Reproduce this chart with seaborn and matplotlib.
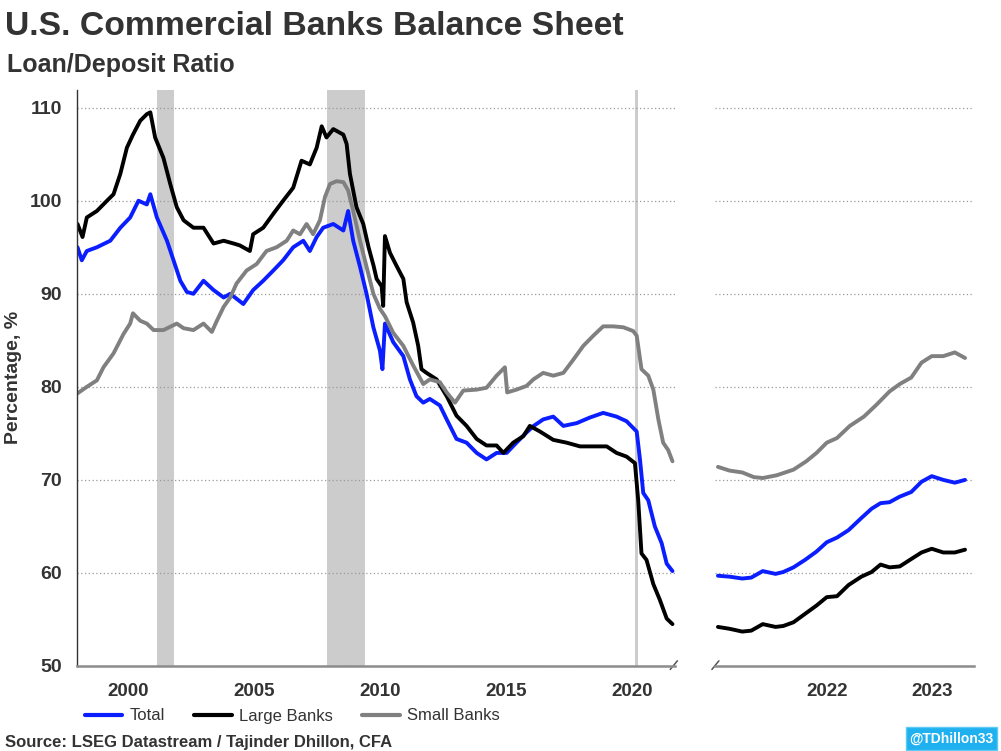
import pandas as pd
import matplotlib.pyplot as plt
import seaborn as sns
from matplotlib.patches import Rectangle

# ---- data (decimal years, loan/deposit ratio %) ----
total_years = [1998.0, 1998.17, 1998.37, 1998.77, 1999.3, 1999.7, 2000.09, 2000.42, 2000.75, 2000.89,
               2001.15, 2001.55, 2001.81, 2002.08, 2002.34, 2002.6, 2003.0, 2003.4, 2003.8, 2004.06,
               2004.58, 2004.97, 2005.37, 2005.77, 2006.16, 2006.56, 2006.96, 2007.22, 2007.49, 2007.75,
               2008.15, 2008.55, 2008.74, 2008.94, 2009.21, 2009.47, 2009.74, 2010.0, 2010.1, 2010.2,
               2010.53, 2010.93, 2011.19, 2011.45, 2011.72, 2011.98, 2012.38, 2012.65, 2012.91, 2013.04,
               2013.44, 2013.84, 2014.23, 2014.63, 2015.03, 2015.42, 2015.82, 2016.1, 2016.48, 2016.88,
               2017.28, 2017.81, 2018.33, 2018.86, 2019.39, 2019.79, 2020.19, 2020.32, 2020.45, 2020.65,
               2020.91, 2021.18, 2021.38, 2021.61]
total_vals = [95.0, 93.6, 94.6, 95.0, 95.7, 97.1, 98.2, 100.0, 99.6, 100.7,
              98.2, 95.7, 93.6, 91.4, 90.2, 90.0, 91.4, 90.4, 89.6, 90.0,
              88.9, 90.4, 91.4, 92.5, 93.6, 95.0, 95.7, 94.6, 96.1, 97.1,
              97.5, 96.8, 98.9, 95.7, 92.9, 90.0, 86.4, 83.9, 81.9, 86.8,
              84.8, 83.3, 80.8, 79.0, 78.3, 78.7, 78.0, 76.5, 75.1, 74.4,
              74.0, 72.9, 72.2, 72.9, 72.9, 74.0, 75.1, 75.8, 76.5, 76.8,
              75.8, 76.1, 76.7, 77.2, 76.8, 76.3, 75.2, 72.2, 68.6, 67.8,
              65.0, 63.2, 61.0, 60.2]

large_years = [1998.0, 1998.2, 1998.37, 1998.77, 1999.17, 1999.43, 1999.7, 1999.96, 2000.2, 2000.49,
               2000.75, 2000.89, 2001.08, 2001.41, 2001.68, 2001.94, 2002.21, 2002.6, 2003.0, 2003.4,
               2003.8, 2004.2, 2004.44, 2004.84, 2004.97, 2005.37, 2005.77, 2006.16, 2006.56, 2006.89,
               2007.22, 2007.49, 2007.69, 2007.88, 2008.15, 2008.55, 2008.68, 2008.81, 2009.07, 2009.34,
               2009.55, 2009.75, 2009.87, 2010.07, 2010.13, 2010.2, 2010.4, 2010.66, 2010.93, 2011.06,
               2011.32, 2011.52, 2011.65, 2011.85, 2012.25, 2012.65, 2012.91, 2013.04, 2013.44, 2013.84,
               2014.23, 2014.63, 2014.9, 2015.29, 2015.69, 2015.95, 2016.35, 2016.88, 2017.41, 2017.94,
               2018.47, 2019.0, 2019.39, 2019.79, 2020.12, 2020.25, 2020.38, 2020.58, 2020.85, 2021.11,
               2021.38, 2021.61]
large_vals = [97.5, 96.1, 98.2, 98.9, 100.0, 100.7, 102.9, 105.7, 107.1, 108.6,
              109.3, 109.5, 106.8, 104.6, 101.8, 99.3, 97.9, 97.1, 97.1, 95.4,
              95.7, 95.4, 95.2, 94.6, 96.4, 97.1, 98.6, 100.0, 101.4, 104.3,
              103.9, 105.7, 108.0, 106.8, 107.7, 107.1, 106.1, 102.9, 99.3, 97.5,
              95.0, 93.0, 91.6, 90.8, 88.7, 96.2, 94.4, 93.0, 91.6, 89.1,
              86.9, 84.4, 81.9, 81.5, 80.8, 79.0, 77.6, 76.9, 75.8, 74.4,
              73.7, 73.7, 72.9, 74.0, 74.7, 75.8, 75.2, 74.3, 74.0, 73.6,
              73.6, 73.6, 72.9, 72.5, 71.8, 67.8, 62.1, 61.4, 58.8, 57.1,
              55.1, 54.5]

small_years = [1998.0, 1998.37, 1998.77, 1999.03, 1999.43, 1999.83, 2000.09, 2000.2, 2000.49, 2000.75,
               2001.02, 2001.41, 2001.94, 2002.21, 2002.6, 2003.0, 2003.33, 2003.53, 2003.8, 2004.06,
               2004.31, 2004.71, 2005.11, 2005.5, 2005.9, 2006.3, 2006.56, 2006.83, 2007.09, 2007.35,
               2007.62, 2007.82, 2008.02, 2008.28, 2008.55, 2008.74, 2008.94, 2009.21, 2009.47, 2009.74,
               2010.0, 2010.2, 2010.53, 2010.93, 2011.32, 2011.72, 2011.98, 2012.38, 2012.65, 2012.98,
               2013.31, 2013.84, 2014.23, 2014.63, 2014.96, 2015.05, 2015.42, 2015.82, 2016.09, 2016.48,
               2016.88, 2017.28, 2017.67, 2018.07, 2018.47, 2018.86, 2019.26, 2019.66, 2020.05, 2020.19,
               2020.38, 2020.65, 2020.85, 2021.05, 2021.24, 2021.44, 2021.61]
small_vals = [79.3, 80.0, 80.7, 82.1, 83.6, 85.7, 86.8, 87.9, 87.1, 86.8,
              86.1, 86.1, 86.8, 86.3, 86.1, 86.8, 85.9, 87.1, 88.6, 89.6,
              91.1, 92.5, 93.2, 94.6, 95.0, 95.7, 96.8, 96.4, 97.5, 96.4,
              97.9, 100.4, 101.8, 102.1, 102.0, 101.1, 98.9, 95.7, 92.9, 90.0,
              88.4, 87.6, 85.8, 84.4, 82.3, 80.3, 80.8, 80.5, 79.4, 78.3,
              79.6, 79.7, 79.9, 81.2, 82.1, 79.4, 79.7, 80.1, 80.8, 81.5,
              81.2, 81.5, 82.9, 84.4, 85.5, 86.5, 86.5, 86.4, 86.0, 85.5,
              81.9, 81.2, 79.7, 76.5, 74.0, 73.2, 72.0]

# zoomed panel (mid 2021 onwards)
recent_years = [2021.65, 2021.74, 2021.84, 2021.91, 2022.0, 2022.1, 2022.16, 2022.24, 2022.33, 2022.42,
                2022.5, 2022.58, 2022.67, 2022.77, 2022.85, 2022.92, 2022.99, 2023.07, 2023.16, 2023.24,
                2023.32, 2023.41, 2023.5, 2023.58]
recent_total = [59.7, 59.6, 59.4, 59.5, 60.2, 59.9, 60.1, 60.6, 61.4, 62.3,
                63.3, 63.8, 64.6, 65.9, 66.9, 67.5, 67.6, 68.2, 68.7, 69.8,
                70.4, 70.0, 69.7, 70.0]
recent_large = [54.2, 54.0, 53.7, 53.8, 54.5, 54.2, 54.3, 54.7, 55.6, 56.5,
                57.4, 57.5, 58.7, 59.6, 60.1, 60.9, 60.6, 60.7, 61.5, 62.2,
                62.6, 62.2, 62.2, 62.5]
recent_small_years = [2021.65, 2021.74, 2021.84, 2021.93, 2022.0, 2022.11, 2022.24, 2022.34, 2022.42, 2022.5,
                      2022.58, 2022.68, 2022.79, 2022.89, 2022.99, 2023.07, 2023.16, 2023.24, 2023.32, 2023.41,
                      2023.5, 2023.58]
recent_small = [71.4, 71.0, 70.8, 70.3, 70.2, 70.5, 71.1, 72.0, 72.9, 74.0,
                74.5, 75.8, 76.8, 78.1, 79.5, 80.3, 81.0, 82.6, 83.3, 83.3,
                83.7, 83.1]

recessions = [(2001.17, 2001.83), (2007.92, 2009.42), (2020.12, 2020.25)]

series_names = ['Total', 'Large Banks', 'Small Banks']
colors = {'Total': '#0a1eff', 'Large Banks': '#000000', 'Small Banks': '#808080'}
left_ticks = [2000, 2005, 2010, 2015, 2020]
right_ticks = [2022, 2023]
right_labels = ['2022', '2023']

# ---- build long tables ----
df_left = pd.concat([
    pd.DataFrame({'year': total_years, 'value': total_vals, 'series': 'Total'}),
    pd.DataFrame({'year': large_years, 'value': large_vals, 'series': 'Large Banks'}),
    pd.DataFrame({'year': small_years, 'value': small_vals, 'series': 'Small Banks'}),
], ignore_index=True)
df_right = pd.concat([
    pd.DataFrame({'year': recent_years, 'value': recent_total, 'series': 'Total'}),
    pd.DataFrame({'year': recent_years, 'value': recent_large, 'series': 'Large Banks'}),
    pd.DataFrame({'year': recent_small_years, 'value': recent_small, 'series': 'Small Banks'}),
], ignore_index=True)

sns.set_style('white')
plt.rcParams['font.family'] = ['Liberation Sans', 'DejaVu Sans']
txt = '#333333'

fig = plt.figure(figsize=(10.01, 7.51), dpi=100)
W, H = 1001, 751
ax1 = fig.add_axes([77 / W, 1 - 666 / H, 598 / W, 576 / H])
ax2 = fig.add_axes([715 / W, 1 - 666 / H, 259 / W, 576 / H])

for a, d in [(ax1, df_left), (ax2, df_right)]:
    sns.lineplot(data=d, x='year', y='value', hue='series', hue_order=series_names,
                 palette=colors, linewidth=2.8, estimator=None, sort=False,
                 legend=False, ax=a)
    a.set_ylim(50, 111.9)
    a.set_yticks(range(50, 111, 10))
    a.yaxis.grid(True, linestyle=(0, (1, 2)), color='#9a9a9a', linewidth=0.9)
    a.set_axisbelow(True)
    a.set_xlabel('')
    a.set_ylabel('')
    for s in ['top', 'right']:
        a.spines[s].set_visible(False)
    a.spines['bottom'].set_color('#8c8c8c')
    a.spines['bottom'].set_linewidth(1.8)
    a.tick_params(axis='x', which='major', direction='out', length=5, width=1.2,
                  color='#8c8c8c', labelsize=13.5, labelcolor=txt, pad=7)

for start, end in recessions:
    ax1.axvspan(start, end, color='#cccccc', zorder=0, lw=0)

ax1.set_xlim(1997.98, 2021.71)
ax1.set_xticks(left_ticks)
ax1.set_xticklabels([str(t) for t in left_ticks], fontweight='bold')
ax1.spines['left'].set_color('#333333')
ax1.spines['left'].set_linewidth(1.0)
ax1.tick_params(axis='y', direction='out', length=5, width=1, color='#333333',
                labelsize=14, labelcolor=txt, pad=6)
for lab in ax1.get_yticklabels():
    lab.set_fontweight('bold')

ax2.set_xlim(2021.627, 2023.65)
ax2.spines['left'].set_visible(False)
ax2.set_yticklabels([])
ax2.tick_params(axis='y', length=0)
ax2.set_xticks(right_ticks)
ax2.set_xticklabels([])
mid_pos = [(right_ticks[0] + right_ticks[1]) / 2, (right_ticks[1] + ax2.get_xlim()[1]) / 2]
ax2.set_xticks(mid_pos, minor=True)
ax2.set_xticklabels(right_labels, minor=True, fontweight='bold')
ax2.tick_params(axis='x', which='minor', length=0, labelsize=13.5, labelcolor=txt, pad=12)

# axis break marks
kw = dict(color='#555555', lw=1.1, clip_on=False)
ax1.plot([0.992, 1.004], [-0.006, 0.009], transform=ax1.transAxes, **kw)
ax2.plot([-0.012, 0.015], [-0.006, 0.009], transform=ax2.transAxes, **kw)

# titles & annotations
fig.text(5 / W, 1 - 35 / H, 'U.S. Commercial Banks Balance Sheet', fontsize=24.3,
         fontweight='bold', color=txt, va='baseline')
fig.text(7 / W, 1 - 72 / H, 'Loan/Deposit Ratio', fontsize=18, fontweight='bold',
         color=txt, va='baseline')
fig.text(14 / W, 1 - 377 / H, 'Percentage, %', fontsize=14, fontweight='bold', color=txt,
         rotation=90, ha='center', va='center')
fig.text(5 / W, 1 - 747 / H, 'Source: LSEG Datastream / Tajinder Dhillon, CFA', fontsize=12,
         fontweight='bold', color=txt, va='baseline')

fig.patches.append(Rectangle((906 / W, 1 / H), 91 / W, 23 / H, transform=fig.transFigure,
                             facecolor='#1fb0f0', edgecolor='#5ccaf5', lw=1))
fig.text(951.5 / W, 12.5 / H, '@TDhillon33', fontsize=10, fontweight='bold', color='white',
         ha='center', va='center')

handles = [plt.Line2D([], [], color=colors[n], lw=3) for n in series_names]
fig.legend(handles, series_names, loc='center left', bbox_to_anchor=(78 / W, 1 - 716 / H),
           ncol=3, frameon=False, fontsize=12, handlelength=2.25, handletextpad=0.45,
           columnspacing=1.75, labelcolor=txt, borderaxespad=0)

fig.savefig('out.png', dpi=100)
